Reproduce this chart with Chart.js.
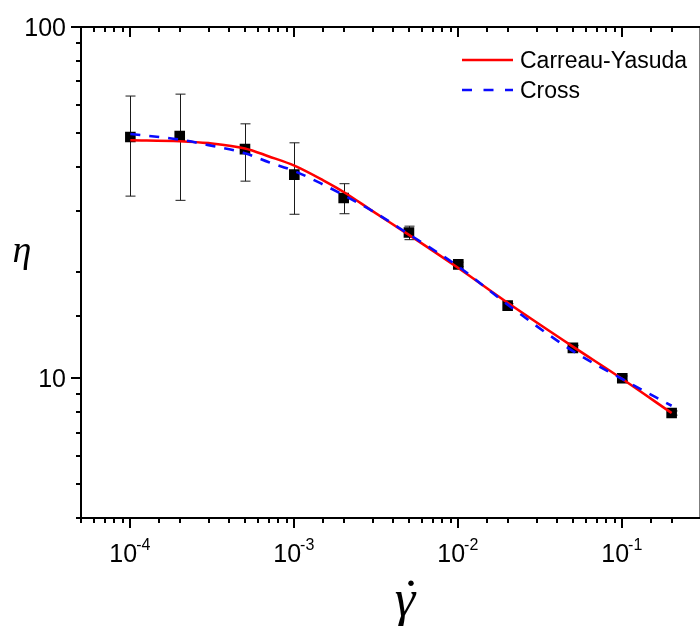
<!DOCTYPE html>
<html>
<head>
<meta charset="utf-8">
<style>
  html, body { margin: 0; background: #fff; overflow: hidden; }
</style>
</head>
<body>
<!-- a few px wider than the window: the right frame edge sits just outside the view -->
<canvas id="canvas" width="708" height="626"></canvas>
<script src="https://cdn.jsdelivr.net/npm/chart.js"></script>
<script>
// measured viscosity with error bars
const shearRate = [1e-4, 2e-4, 5e-4, 1e-3, 2e-3, 5e-3, 1e-2, 2e-2, 5e-2, 1e-1, 2e-1];
const viscosity = [48.6, 48.9, 44.9, 38.0, 32.6, 26.0, 21.1, 16.1, 12.2, 10.0, 7.96];
const errLow    = [33.0, 32.1, 36.4, 29.3, 29.4, 24.8, 20.8, 15.9, 12.0, 9.85, 7.85];
const errHigh   = [63.6, 64.4, 53.0, 46.8, 35.8, 27.1, 21.4, 16.3, 12.4, 10.15, 8.07];

// fitted model curves
const fitRate       = [1e-4, 2e-4, 3e-4, 5e-4, 7e-4, 1e-3, 1.5e-3, 2e-3, 3e-3, 5e-3, 1e-2, 2e-2, 5e-2, 1e-1, 2e-1];
const carreauYasuda = [47.6, 47.3, 46.7, 45.1, 42.8, 40.3, 36.6, 33.9, 29.9, 25.6, 20.6, 16.4, 12.3, 9.95, 7.96];
const cross         = [49.6, 47.8, 46.1, 43.7, 41.2, 38.9, 35.6, 33.2, 29.9, 25.7, 20.8, 16.2, 11.95, 9.95, 8.35];

const seriesNames = ['Carreau-Yasuda', 'Cross'];

// axis labels
const xTickValues = [1e-4, 1e-3, 1e-2, 1e-1];
const xTickExps   = ['-4', '-3', '-2', '-1'];
const yTickValues = [10, 100];
const yTickLabels = ['10', '100'];

const SANS = '"Liberation Sans", Arial, sans-serif';
const SERIF = '"Liberation Serif", "Times New Roman", serif';

const toXY = (xs, ys) => xs.map((v, i) => ({ x: v, y: ys[i] }));
const isDecade = v => Math.abs(Math.log10(v) - Math.round(Math.log10(v))) < 1e-6;

const axesPlugin = {
  id: 'axesPlugin',
  beforeDatasetsDraw(chart) {
    const { ctx, scales: { x, y } } = chart;
    ctx.save();
    ctx.strokeStyle = '#1a1a1a';
    ctx.lineWidth = 1;
    shearRate.forEach((g, i) => {
      const px = Math.round(x.getPixelForValue(g)) + 0.5;
      const lo = y.getPixelForValue(errLow[i]);
      const hi = y.getPixelForValue(errHigh[i]);
      ctx.beginPath();
      ctx.moveTo(px, lo); ctx.lineTo(px, hi);
      ctx.moveTo(px - 5, lo); ctx.lineTo(px + 5, lo);
      ctx.moveTo(px - 5, hi); ctx.lineTo(px + 5, hi);
      ctx.stroke();
    });
    ctx.restore();
  },
  afterDraw(chart) {
    const { ctx, chartArea: { left, right, top, bottom }, scales: { x, y } } = chart;
    ctx.save();
    ctx.strokeStyle = '#000';
    ctx.lineWidth = 2;

    // frame: left, bottom, top, right
    ctx.beginPath();
    ctx.moveTo(left, top); ctx.lineTo(left, bottom);
    ctx.moveTo(right, top); ctx.lineTo(right, bottom);
    ctx.moveTo(left - 1, bottom); ctx.lineTo(right + 1, bottom);
    ctx.moveTo(left - 1, top); ctx.lineTo(right + 1, top);
    ctx.stroke();

    // x ticks: outward at the bottom, inward at the top
    ctx.beginPath();
    x.ticks.forEach(t => {
      const px = Math.round(x.getPixelForValue(t.value));
      const len = isDecade(t.value) ? 10 : 5;
      ctx.moveTo(px, bottom); ctx.lineTo(px, bottom + len);
      ctx.moveTo(px, top); ctx.lineTo(px, top + len);
    });
    // y ticks: outward on the left
    y.ticks.forEach(t => {
      const py = Math.round(y.getPixelForValue(t.value));
      const len = isDecade(t.value) ? 10 : 5;
      ctx.moveTo(left, py); ctx.lineTo(left - len, py);
    });
    ctx.stroke();

    ctx.fillStyle = '#000';
    ctx.textBaseline = 'alphabetic';

    // x tick labels as 10 with a raised exponent
    xTickValues.forEach((v, i) => {
      const px = x.getPixelForValue(v);
      ctx.font = '25px ' + SANS;
      const wBase = ctx.measureText('10').width;
      ctx.font = '16px ' + SANS;
      const wExp = ctx.measureText(xTickExps[i]).width;
      const x0 = px - (wBase + wExp) / 2;
      ctx.textAlign = 'left';
      ctx.font = '25px ' + SANS;
      ctx.fillText('10', x0, 562);
      ctx.font = '16px ' + SANS;
      ctx.fillText(xTickExps[i], x0 + wBase - 1, 550);
    });

    // y tick labels
    ctx.font = '25px ' + SANS;
    ctx.textAlign = 'right';
    yTickValues.forEach((v, i) => {
      const py = y.getPixelForValue(v);
      ctx.fillText(yTickLabels[i], 66, py + 9);
    });

    // axis titles
    ctx.textAlign = 'center';
    ctx.font = 'italic 38px ' + SERIF;
    ctx.fillText('\u03B7', 22, 262);
    ctx.font = 'italic 52px ' + SERIF;
    ctx.fillText('\u03B3', 405, 616);
    ctx.font = '52px ' + SERIF;
    ctx.fillText('\u02D9', 411, 616);

    // legend
    const ds = chart.data.datasets;
    const rows = [{ d: ds[1], y: 60 }, { d: ds[2], y: 90 }];
    rows.forEach((r, i) => {
      ctx.beginPath();
      ctx.strokeStyle = r.d.borderColor;
      ctx.lineWidth = r.d.borderWidth;
      ctx.setLineDash(i === 1 ? [10, 11.5] : []);
      ctx.moveTo(462, r.y); ctx.lineTo(513, r.y);
      ctx.stroke();
      ctx.setLineDash([]);
      ctx.font = '23px ' + SANS;
      ctx.textAlign = 'left';
      ctx.fillStyle = '#000';
      ctx.fillText(seriesNames[i], 520, r.y + 7.5);
    });
    ctx.restore();
  }
};

const noPad = s => { s.paddingLeft = 0; s.paddingRight = 0; s.paddingTop = 0; s.paddingBottom = 0; };

new Chart(document.getElementById('canvas'), {
  type: 'line',
  data: {
    datasets: [
      {
        label: 'data',
        data: toXY(shearRate, viscosity),
        showLine: false,
        pointStyle: 'rect',
        pointRadius: 7.5,
        pointBackgroundColor: '#000',
        pointBorderWidth: 0,
        order: 3
      },
      {
        label: seriesNames[0],
        data: toXY(fitRate, carreauYasuda),
        borderColor: '#ff0000',
        borderWidth: 2.6,
        pointRadius: 0,
        cubicInterpolationMode: 'monotone',
        order: 2
      },
      {
        label: seriesNames[1],
        data: toXY(fitRate, cross),
        borderColor: '#0a0aff',
        borderWidth: 2.6,
        borderDash: [10, 9],
        pointRadius: 0,
        cubicInterpolationMode: 'monotone',
        order: 1
      }
    ]
  },
  options: {
    responsive: false,
    animation: false,
    events: [],
    layout: { padding: { top: 27, right: 0, left: 0, bottom: 0 } },
    plugins: { legend: { display: false }, tooltip: { enabled: false } },
    scales: {
      x: {
        type: 'logarithmic',
        position: 'bottom',
        min: 5e-5,
        max: 0.3,
        ticks: { display: false, autoSkip: false },
        grid: { display: false },
        border: { display: false },
        afterFit(s) { s.height = 108; noPad(s); }
      },
      y: {
        type: 'logarithmic',
        min: 4,
        max: 100,
        ticks: { display: false, autoSkip: false },
        grid: { display: false },
        border: { display: false },
        afterFit(s) { s.width = 81; noPad(s); }
      }
    }
  },
  plugins: [axesPlugin]
});
</script>
</body>
</html>
